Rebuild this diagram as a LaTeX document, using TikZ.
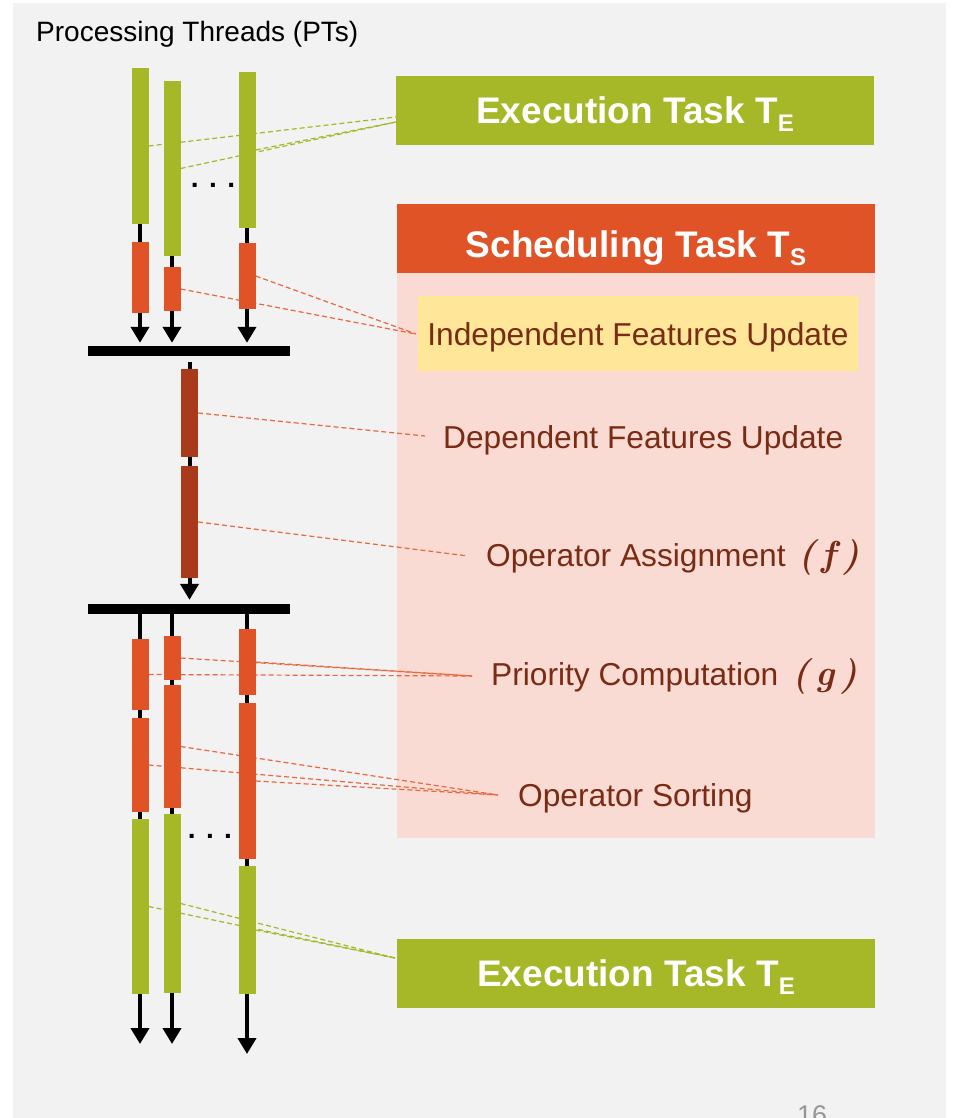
\documentclass[tikz,border=0pt]{standalone}
\usepackage{fontspec}
\setmainfont{Liberation Sans}
\newfontfamily\fnfont{Latin Modern Roman}
\usetikzlibrary{arrows.meta, positioning}
\definecolor{taskgreen}{RGB}{166,183,40}
\definecolor{taskred}{RGB}{224,83,39}
\definecolor{taskbrown}{RGB}{169,59,26}
\definecolor{panelpink}{RGB}{249,219,211}
\definecolor{noteyellow}{RGB}{255,230,153}
\definecolor{textbrown}{RGB}{122,43,20}
\definecolor{slidegray}{RGB}{242,242,242}
\definecolor{linkred}{RGB}{233,102,63}
\definecolor{pagegray}{RGB}{150,150,150}
\newcommand{\tasksub}[1]{\raisebox{-8pt}[0pt][0pt]{\fontsize{24}{24}\selectfont #1}}
\newcommand{\fnname}[1]{{\fnfont\bfseries\itshape\fontsize{36}{40}\selectfont (\,#1\,)}}

\pgfdeclarelayer{paper}
\pgfdeclarelayer{links}
\pgfsetlayers{paper,links,main}

\begin{document}
\begin{tikzpicture}[
        x=1pt, y=-1pt,
        seg/.style={rectangle, inner sep=0pt, minimum width=17pt},
        exseg/.style={seg, fill=taskgreen},
        scseg/.style={seg, fill=taskred},
        dpseg/.style={seg, fill=taskbrown},
        syncbar/.style={rectangle, fill=black, inner sep=0pt, minimum width=202pt, minimum height=10pt},
        flow/.style={line width=4pt},
        flowarrow/.style={flow, -{Triangle[width=18pt, length=16pt]}},
        taskhead/.style={rectangle, inner sep=0pt, minimum width=478pt, minimum height=69pt, text height=26pt, text depth=0pt, text=white, font=\fontsize{37}{44}\selectfont\bfseries},
        stagelabel/.style={anchor=base west, inner sep=0pt, text=textbrown, font=\fontsize{31.7}{38}\selectfont},
        link/.style={dash pattern=on 5pt off 3pt, line width=1.2pt}
    ]
        \useasboundingbox (0,0) rectangle (953,1118);
        \begin{pgfonlayer}{paper}
            \fill[slidegray] (13,3) rectangle (946,1118);
            \node[rectangle, inner sep=0pt, minimum width=478pt, minimum height=565pt, fill=panelpink] (panel) at (636,555.5) {};
        \end{pgfonlayer}

        \node[anchor=base west, inner sep=0pt, font=\fontsize{28}{34}\selectfont] (title) at (36,42) {Processing Threads (PTs)};

        % threads before the first barrier
        \node[exseg, minimum height=156pt] (g1) at (140,146)   {};
        \node[exseg, minimum height=175pt] (g2) at (172,168.5) {};
        \node[exseg, minimum height=156pt] (g3) at (247,150)   {};
        \node[scseg, minimum height=71pt]  (r1) at (140,277.5) {};
        \node[scseg, minimum height=44pt]  (r2) at (172,289)   {};
        \node[scseg, minimum height=66pt]  (r3) at (247,276)   {};
        \node[anchor=base, inner sep=0pt, font=\fontsize{28}{34}\selectfont\bfseries] (dots1) at (213,188) {. . .};
        \node[syncbar] (bar1) at (189,351) {};

        % single thread
        \node[dpseg, minimum height=88pt]  (b1) at (189.5,413) {};
        \node[dpseg, minimum height=112pt] (b2) at (189.5,522) {};
        \node[syncbar] (bar2) at (189,609) {};

        % threads after the second barrier
        \node[scseg, minimum height=71pt]  (s1) at (140,674.5) {};
        \node[scseg, minimum height=44pt]  (s2) at (172,658)   {};
        \node[scseg, minimum height=66pt]  (s3) at (247,662)   {};
        \node[scseg, minimum height=94pt]  (t1) at (140,765)   {};
        \node[scseg, minimum height=123pt] (t2) at (172,746.5) {};
        \node[scseg, minimum height=156pt] (t3) at (247,781)   {};
        \node[exseg, minimum height=175pt] (e1) at (140,906.5) {};
        \node[exseg, minimum height=179pt] (e2) at (172,903.5) {};
        \node[exseg, minimum height=128pt] (e3) at (247,930)   {};
        \node[anchor=base, inner sep=0pt, font=\fontsize{28}{34}\selectfont\bfseries] (dots2) at (210,838) {. . .};
        \coordinate (out1) at (140,1044);
        \coordinate (out2) at (172,1044);
        \coordinate (out3) at (247,1054);

        \draw[flow] (g1) -- (r1);
        \draw[flow] (g2) -- (r2);
        \draw[flow] (g3) -- (r3);
        \draw[flowarrow, shorten >=3pt] (r1.south) -- (r1.south |- bar1.north);
        \draw[flowarrow, shorten >=3pt] (r2.south) -- (r2.south |- bar1.north);
        \draw[flowarrow, shorten >=3pt] (r3.south) -- (r3.south |- bar1.north);
        \draw[flow, shorten <=6pt] (b1.north |- bar1.south) -- (b1.north);
        \draw[flow] (b1) -- (b2);
        \draw[flowarrow, shorten >=4pt] (b2.south) -- (b2.south |- bar2.north);
        \draw[flow] (s1.north |- bar2.south) -- (s1.north);
        \draw[flow] (s2.north |- bar2.south) -- (s2.north);
        \draw[flow] (s3.north |- bar2.south) -- (s3.north);
        \draw[flow] (s1) -- (t1);
        \draw[flow] (s2) -- (t2);
        \draw[flow] (s3) -- (t3);
        \draw[flow] (t1) -- (e1);
        \draw[flow] (t2) -- (e2);
        \draw[flow] (t3) -- (e3);
        \draw[flowarrow] (e1) -- (out1);
        \draw[flowarrow] (e2) -- (out2);
        \draw[flowarrow] (e3) -- (out3);

        % task boxes
        \node[taskhead, fill=taskgreen] (exectop) at (635,110.5) {Execution Task T\tasksub{E}};
        \node[taskhead, fill=taskred, text height=38pt] (schedhead) at (636,238.5) {Scheduling Task T\tasksub{S}};
        \node[rectangle, inner sep=0pt, minimum width=440pt, minimum height=75pt, fill=noteyellow, text height=23pt, text depth=0pt, text=textbrown, font=\fontsize{31.7}{38}\selectfont] (indep) at (638,333.5) {Independent Features Update};
        \node[stagelabel] (dep)    at (443,448) {Dependent Features Update};
        \node[stagelabel] (assign) at (486,566) {Operator Assignment\hspace{13pt}\fnname{f}};
        \node[stagelabel] (prio)   at (491,685) {Priority Computation\hspace{14pt}\fnname{g}};
        \node[stagelabel] (sort)   at (518,806) {Operator Sorting};
        \node[taskhead, fill=taskgreen] (execbot) at (636,973.5) {Execution Task T\tasksub{E}};
        \node[anchor=north west, inner sep=0pt, text=pagegray, font=\fontsize{27}{32}\selectfont] (pageno) at (797,1105) {16};

        \coordinate (te1) at (396,117);
        \coordinate (te2) at (396,122);
        \coordinate (iu)  at (416,334);
        \coordinate (du)  at (425,436);
        \coordinate (oa)  at (468,556);
        \coordinate (pc)  at (472,676);
        \coordinate (os)  at (498,795);
        \coordinate (eb)  at (395,958);

        % dashed leaders
        \begin{pgfonlayer}{links}
            \draw[link, taskgreen] (g1.east) -- (te1);
            \draw[link, taskgreen] (g2.east) -- (te2);
            \draw[link, taskgreen] (g3.east) -- (te2);
            \draw[link, linkred] (r2.east) -- (iu);
            \draw[link, linkred] (r3.east) -- (iu);
            \draw[link, linkred] (b1.east) -- (du);
            \draw[link, linkred] (b2.east) -- (oa);
            \draw[link, linkred] (s1.east) -- (pc);
            \draw[link, linkred] (s2.east) -- (pc);
            \draw[link, linkred] (s3.east) -- (pc);
            \draw[link, linkred] (t1.east) -- (os);
            \draw[link, linkred] (t2.east) -- (os);
            \draw[link, linkred] (t3.east) -- (os);
            \draw[link, taskgreen] (e1.east) -- (eb);
            \draw[link, taskgreen] (e2.east) -- (eb);
            \draw[link, taskgreen] (e3.east) -- (eb);
        \end{pgfonlayer}
    \end{tikzpicture}
\end{document}
